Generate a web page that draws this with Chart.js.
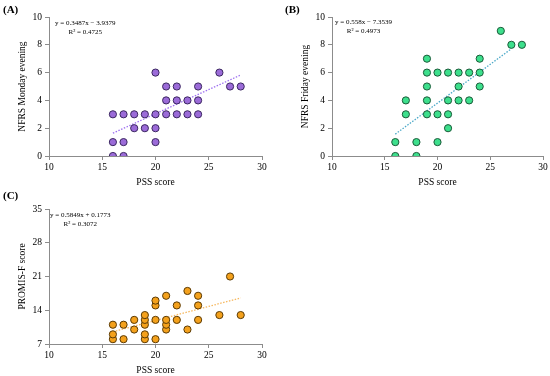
<!DOCTYPE html>
<html>
<head>
<meta charset="utf-8">
<script src="https://cdn.jsdelivr.net/npm/chart.js@4"></script>
<style>
    body { margin: 0; background: #fff; }
    #wrap { position: relative; width: 550px; height: 376px; overflow: hidden; }
    canvas { position: absolute; }
    .lbl { position: absolute; font-family: "Liberation Serif", serif; color: #000; white-space: nowrap; }
    .panel { font-size: 11px; font-weight: bold; }
    .eq { font-size: 7px; line-height: 9px; text-align: center; }
</style>
</head>
<body>
<div id="wrap">
    <canvas id="chartA" style="left:0;top:0"></canvas>
    <canvas id="chartB" style="left:275px;top:0"></canvas>
    <canvas id="chartC" style="left:0;top:188px"></canvas>

    <div class="lbl panel" style="left:3px;top:3px">(A)</div>
    <div class="lbl panel" style="left:285px;top:3px">(B)</div>
    <div class="lbl panel" style="left:3px;top:189px">(C)</div>

    <div class="lbl eq" style="left:55px;top:19px">y = 0.3487x − 3.9379<br>R² = 0.4725</div>
    <div class="lbl eq" style="left:335px;top:18px">y = 0.558x − 7.3539<br>R² = 0.4973</div>
    <div class="lbl eq" style="left:50px;top:211px">y = 0.5849x + 0.1773<br>R² = 0.3072</div>
</div>
<script>
// PSS score (x) vs outcome (y)
const pssA = [16, 16, 16, 17, 17, 17, 18, 18, 19, 19, 20, 20, 20, 20, 21, 21, 21, 22, 22, 22, 23, 23, 24, 24, 24, 26, 27, 28];
const mondayEvening = [0, 1, 3, 0, 1, 3, 2, 3, 2, 3, 1, 2, 3, 6, 3, 4, 5, 3, 4, 5, 3, 4, 3, 4, 5, 6, 5, 5];

const pssB = [16, 16, 17, 17, 18, 18, 19, 19, 19, 19, 19, 20, 20, 20, 21, 21, 21, 21, 22, 22, 22, 23, 23, 24, 24, 24, 26, 27, 28];
const fridayEvening = [0, 1, 3, 4, 0, 1, 3, 4, 5, 6, 7, 1, 3, 6, 2, 3, 4, 6, 4, 5, 6, 4, 6, 5, 6, 7, 9, 8, 8];

const pssC = [16, 16, 16, 17, 17, 18, 18, 19, 19, 19, 19, 19, 20, 20, 20, 20, 21, 21, 21, 21, 22, 22, 23, 23, 24, 24, 24, 26, 27, 28];
const promisF = [8, 9, 11, 8, 11, 10, 12, 8, 9, 11, 12, 13, 8, 12, 15, 16, 10, 11, 12, 17, 12, 15, 10, 18, 12, 15, 17, 13, 21, 13];

// trendline coefficients printed on each panel
const trendA = { slope: 0.3487, intercept: -3.9379, from: 16, to: 28 };
const trendB = { slope: 0.558, intercept: -7.3539, from: 16, to: 27 };
const trendC = { slope: 0.5849, intercept: 0.1773, from: 16, to: 28 };

const xTicks = [10, 15, 20, 25, 30];
const yTicksA = [0, 2, 4, 6, 8, 10];
const yTicksC = [7, 14, 21, 28, 35];

const FONT = "'Liberation Serif', serif";
const AXIS = "#8c8c8c";

function makeChart(id, xs, ys, trend, opt) {
    const canvas = document.getElementById(id);
    canvas.width = 275;
    canvas.height = 188;
    const points = xs.map((x, i) => ({ x: x, y: ys[i] }));
    const line = [trend.from, trend.to].map(x => ({ x: x, y: trend.slope * x + trend.intercept }));
    const yTicks = opt.yTicks;

    return new Chart(canvas, {
        type: "scatter",
        data: {
            datasets: [{
                data: points,
                backgroundColor: opt.fill,
                borderColor: opt.edge,
                borderWidth: 1,
                pointRadius: 3.6,
                order: 1
            }, {
                type: "line",
                data: line,
                borderColor: opt.trend,
                borderWidth: 1.3,
                borderDash: [1.5, 1.5],
                pointRadius: 0,
                fill: false,
                order: 2
            }]
        },
        options: {
            responsive: false,
            animation: false,
            events: [],
            layout: { padding: { top: opt.top, right: opt.right, left: opt.left, bottom: 0 } },
            plugins: { legend: { display: false }, tooltip: { enabled: false } },
            scales: {
                x: {
                    type: "linear",
                    min: 10, max: 30,
                    afterBuildTicks: s => { s.ticks = xTicks.map(v => ({ value: v })); },
                    afterFit: s => { s.height = 32; },
                    grid: { drawOnChartArea: false, drawTicks: true, tickLength: 4, color: AXIS },
                    border: { color: AXIS, width: 1 },
                    ticks: { color: "#000", font: { family: FONT, size: 9.5 }, padding: 2 },
                    title: { display: true, text: "PSS score", color: "#000", font: { family: FONT, size: 9.5 }, padding: { top: 2, bottom: 0 } }
                },
                y: {
                    type: "linear",
                    min: yTicks[0], max: yTicks[yTicks.length - 1],
                    afterBuildTicks: s => { s.ticks = yTicks.map(v => ({ value: v })); },
                    afterFit: s => { s.width = opt.yWidth; },
                    grid: { drawOnChartArea: false, drawTicks: true, tickLength: 4, color: AXIS },
                    border: { color: AXIS, width: 1 },
                    ticks: { color: "#000", font: { family: FONT, size: 9.5 }, padding: 3 },
                    title: { display: true, text: opt.yTitle, color: "#000", font: { family: FONT, size: 9.5 }, padding: { top: 0, bottom: 4 } }
                }
            }
        }
    });
}

makeChart("chartA", pssA, mondayEvening, trendA, {
    yTitle: "NFRS Monday evening", yTicks: yTicksA, left: 17, yWidth: 32, top: 17, right: 13,
    fill: "#9b6bd8", edge: "#3b2760", trend: "#9d6ff0"
});
makeChart("chartB", pssB, fridayEvening, trendB, {
    yTitle: "NFRS Friday evening", yTicks: yTicksA, left: 25, yWidth: 32, top: 17, right: 7,
    fill: "#3ddf8c", edge: "#1b5a39", trend: "#4aa8c8"
});
makeChart("chartC", pssC, promisF, trendC, {
    yTitle: "PROMIS-F score", yTicks: yTicksC, left: 17, yWidth: 32, top: 21, right: 13,
    fill: "#f4a11c", edge: "#5a3a05", trend: "#f6b860"
});
</script>
</body>
</html>
